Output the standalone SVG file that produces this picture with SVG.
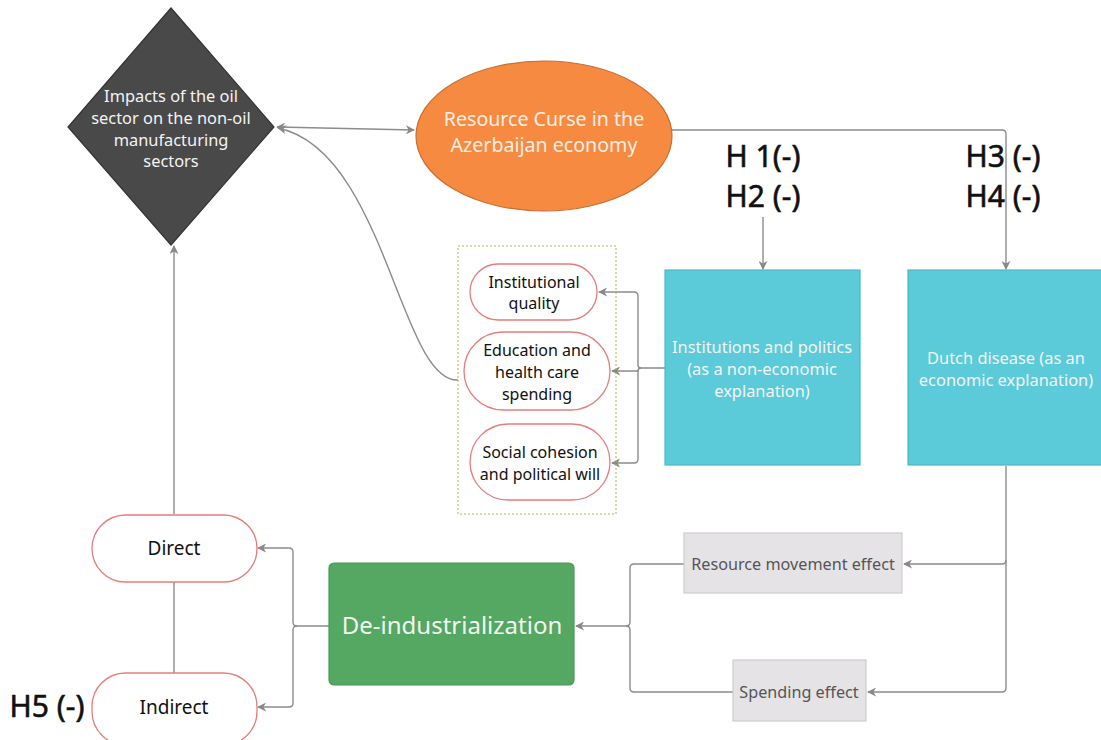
<svg xmlns="http://www.w3.org/2000/svg" width="1101" height="740" viewBox="0 0 1101 740">
  <defs>
    <marker id="arr" viewBox="0 0 10 10" refX="9" refY="5" markerWidth="9" markerHeight="9" markerUnits="userSpaceOnUse" orient="auto-start-reverse">
      <path d="M0,0 L10,5 L0,10 L3,5 Z" fill="#888"/>
    </marker>
    <style>
      text { font-family: "Noto Sans", "Open Sans", "DejaVu Sans", sans-serif; text-anchor: middle; }
      .conn { fill: none; stroke: #8c8c8c; stroke-width: 1.4; }
      .pill { fill: #fff; stroke: #e57d7d; stroke-width: 1.3; }
      .dark { fill: #111; font-size: 16px; }
      .big { fill: #111; font-size: 19px; }
      .light { fill: #f4f4f4; font-size: 16.4px; }
      .hyp { fill: #111; font-size: 30px; stroke: #111; stroke-width: 0.6px; }
      .grey { fill: #e6e3e6; stroke: #cfcccf; stroke-width: 1.2; }
      .greytxt { fill: #555; font-size: 16.2px; }
      .cyan { fill: #5bcbd9; stroke: #4cb9c7; stroke-width: 1.2; }
    </style>
  </defs>

  <rect width="1101" height="740" fill="#fff"/>

  <!-- connectors -->
  <g id="connectors">
    <!-- diamond <-> ellipse -->
    <line class="conn" x1="277" y1="127" x2="414" y2="130" marker-start="url(#arr)" marker-end="url(#arr)"/>
    <!-- ellipse to Dutch disease -->
    <path class="conn" d="M672,130 L1002,130 Q1006,130 1006,134 L1006,269" marker-end="url(#arr)"/>
    <!-- H2 label to institutions -->
    <line class="conn" x1="763" y1="217" x2="763" y2="269" marker-end="url(#arr)"/>
    <!-- institutions to its three factors -->
    <path class="conn" d="M665,368 L641,368 Q638,368 638,365 L638,296 Q638,292 634,292 L599,292" marker-end="url(#arr)"/>
    <path class="conn" d="M641,368 Q638,368 638,371 L638,371 L612,371" marker-end="url(#arr)"/>
    <path class="conn" d="M638,371 L638,459 Q638,463 634,463 L612,463" marker-end="url(#arr)"/>
    <!-- factor group back to diamond -->
    <path class="conn" d="M458,380 C400,382 385,150 278,128" marker-end="url(#arr)"/>
    <!-- Dutch disease to the two effects -->
    <path class="conn" d="M1006,466 L1006,688 Q1006,692 1002,692 L868,692" marker-end="url(#arr)"/>
    <path class="conn" d="M1006,560 Q1006,564 1002,564 L904,564" marker-end="url(#arr)"/>
    <!-- effects to de-industrialization -->
    <path class="conn" d="M684,564 L634,564 Q630,564 630,568 L630,622 Q630,626 626,626 L576,626" marker-end="url(#arr)"/>
    <path class="conn" d="M733,692 L634,692 Q630,692 630,688 L630,630 Q630,626 626,626" />
    <!-- de-industrialization to direct / indirect -->
    <path class="conn" d="M329,626 L297,626 Q293,626 293,622 L293,552 Q293,548 289,548 L258,548" marker-end="url(#arr)"/>
    <path class="conn" d="M297,626 Q293,626 293,630 L293,703 Q293,707 289,707 L258,707" marker-end="url(#arr)"/>
    <!-- direct up to diamond, direct to indirect -->
    <line class="conn" x1="174" y1="514" x2="174" y2="246" marker-end="url(#arr)"/>
    <line class="conn" x1="174" y1="582" x2="174" y2="673"/>
  </g>

  <!-- impacts diamond -->
  <g id="impacts">
    <polygon points="171,8 274,127 171,245 68,127" fill="#4a4949" stroke="#333" stroke-width="1.2"/>
    <text class="light" x="171" y="102">Impacts of the oil</text>
    <text class="light" x="171" y="124">sector on the non-oil</text>
    <text class="light" x="171" y="146">manufacturing</text>
    <text class="light" x="171" y="167">sectors</text>
  </g>

  <!-- resource curse ellipse -->
  <g id="resource-curse">
    <ellipse cx="544" cy="136" rx="128" ry="75" fill="#f68a40" stroke="#c86f33" stroke-width="1.2"/>
    <text x="544" y="126" fill="#fbeee4" font-size="19.6">Resource Curse in the</text>
    <text x="544" y="152" fill="#fbeee4" font-size="19.6">Azerbaijan economy</text>
  </g>

  <!-- hypotheses labels -->
  <g id="hyp-1-2">
    <text class="hyp" x="763" y="167">H 1(-)</text>
    <text class="hyp" x="763" y="207">H2 (-)</text>
  </g>
  <g id="hyp-3-4">
    <text class="hyp" x="1003" y="167">H3 (-)</text>
    <text class="hyp" x="1003" y="207">H4 (-)</text>
  </g>

  <!-- factor group -->
  <g id="factor-group">
    <rect x="458" y="246" width="158" height="268" fill="none" stroke="#a9b552" stroke-width="1" stroke-dasharray="2 2"/>
  </g>
  <g id="institutional-quality">
    <rect class="pill" x="470" y="264" width="127" height="56" rx="28"/>
    <text class="dark" x="534" y="288">Institutional</text>
    <text class="dark" x="534" y="309">quality</text>
  </g>
  <g id="education-health">
    <rect class="pill" x="464" y="332" width="146" height="78" rx="39"/>
    <text class="dark" x="537" y="356">Education and</text>
    <text class="dark" x="537" y="378">health care</text>
    <text class="dark" x="537" y="400">spending</text>
  </g>
  <g id="social-cohesion">
    <rect class="pill" x="470" y="424" width="140" height="76" rx="38"/>
    <text class="dark" x="540" y="458">Social cohesion</text>
    <text class="dark" x="540" y="480">and political will</text>
  </g>

  <!-- institutions and politics -->
  <g id="institutions">
    <rect class="cyan" x="665" y="270" width="195" height="195"/>
    <text class="light" x="762" y="353">Institutions and politics</text>
    <text class="light" x="762" y="375">(as a non-economic</text>
    <text class="light" x="762" y="397">explanation)</text>
  </g>

  <!-- dutch disease -->
  <g id="dutch-disease">
    <rect class="cyan" x="908" y="270" width="200" height="195"/>
    <text class="light" x="1006" y="364">Dutch disease (as an</text>
    <text class="light" x="1006" y="386">economic explanation)</text>
  </g>

  <!-- effects -->
  <g id="resource-movement">
    <rect class="grey" x="684" y="533" width="218" height="60"/>
    <text class="greytxt" x="793" y="570">Resource movement effect</text>
  </g>
  <g id="spending-effect">
    <rect class="grey" x="733" y="660" width="133" height="61"/>
    <text class="greytxt" x="799" y="698">Spending effect</text>
  </g>

  <!-- de-industrialization -->
  <g id="de-industrialization">
    <rect x="329" y="563" width="245" height="122" rx="5" fill="#54a862" stroke="#489a55" stroke-width="1.2"/>
    <text x="452" y="634" fill="#f2f7f2" font-size="24">De-industrialization</text>
  </g>

  <!-- direct / indirect -->
  <g id="direct">
    <rect class="pill" x="92" y="515" width="165" height="67" rx="33.5"/>
    <text class="big" x="174" y="555">Direct</text>
  </g>
  <g id="indirect">
    <rect class="pill" x="92" y="673" width="165" height="72" rx="33.5"/>
    <text class="big" x="174" y="714">Indirect</text>
  </g>
  <g id="hyp-5">
    <text class="hyp" x="47" y="717">H5 (-)</text>
  </g>
</svg>
